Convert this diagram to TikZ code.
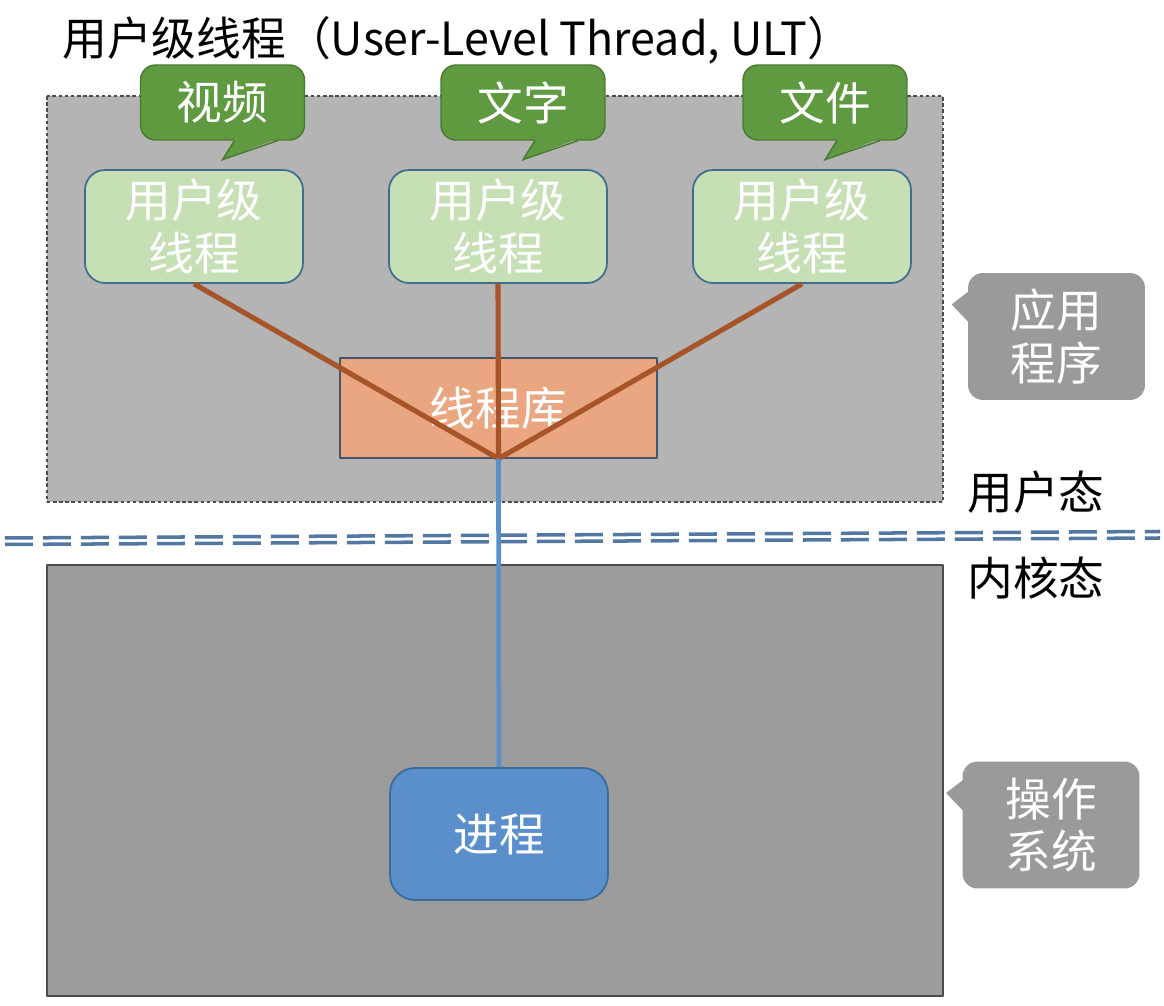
\documentclass[tikz,border=0pt]{standalone}
\usepackage{fontspec}
\setmainfont{Noto Sans CJK SC}
\usetikzlibrary{calc}
\definecolor{userbg}{HTML}{B4B4B4}
\definecolor{kernbg}{HTML}{9C9C9C}
\definecolor{talkfill}{HTML}{5F9A40}
\definecolor{talkline}{HTML}{477A2E}
\definecolor{ultfill}{HTML}{C6DFB5}
\definecolor{ultline}{HTML}{3F6E8F}
\definecolor{libfill}{HTML}{EAA680}
\definecolor{libline}{HTML}{44546A}
\definecolor{linkbrown}{HTML}{A65428}
\definecolor{procfill}{HTML}{5A8FCB}
\definecolor{procline}{HTML}{3A6A98}
\definecolor{notefill}{HTML}{9A9A9A}
\definecolor{splitblue}{HTML}{5277A3}
\begin{document}
\begin{tikzpicture}[x=0.02cm, y=-0.02cm, font=\fontsize{26}{30}\selectfont, line join=round]
    \tikzset{
        ult/.style={draw=ultline, fill=ultfill, rounded corners=0.4cm, line width=1pt, minimum width=4.36cm, minimum height=2.26cm, align=center, text=white},
        talk/.style={draw=talkline, fill=talkfill, rounded corners=0.3cm, line width=0.8pt, minimum width=3.28cm, minimum height=1.5cm, text=white},
        note/.style={fill=notefill, rounded corners=0.3cm, minimum width=3.54cm, minimum height=2.54cm, align=center, text=white},
        link/.style={draw=linkbrown, line width=2.9pt},
        split/.style={draw=splitblue, line width=2pt, dash pattern=on 0.56cm off 0.2cm}
    }
    \useasboundingbox (0,0) rectangle (1164,1006);
    % user space / kernel space
    \draw[draw=black!70, fill=userbg, line width=0.8pt, dash pattern=on 2pt off 1.5pt] (47,96) rectangle (943,502);
    \draw[draw=black!70, fill=kernbg, line width=1pt] (47,565) rectangle (943,996);
    \node[anchor=west, inner sep=0pt, xscale=0.98] (title) at (62,40) {用户级线程（User-Level Thread, ULT）};

    \node[ult] (ult1) at (194,226.5) {用户级\\线程};
    \node[ult] (ult2) at (498,226.5) {用户级\\线程};
    \node[ult] (ult3) at (802,226.5) {用户级\\线程};

    \node[talk] (video) at (222.5,102.5) {视频};
    \node[talk] (text) at (523,102.5) {文字};
    \node[talk] (file) at (825,102.5) {文件};
    \foreach \n in {video,text,file}{
        \fill[talkfill] ($(\n.south)+(12,-2)$) -- ($(\n.south)+(0,19)$) -- ($(\n.south)+(55,-2)$) -- cycle;
        \draw[talkline, line width=0.8pt, line join=miter] ($(\n.south)+(12,0)$) -- ($(\n.south)+(0,19)$) -- ($(\n.south)+(55,0)$);
    }

    \node[draw=libline, fill=libfill, line width=0.8pt, minimum width=6.34cm, minimum height=2cm, text=white] (lib) at (498.5,408) {线程库};
    \node[draw=procline, fill=procfill, rounded corners=0.5cm, line width=1pt, minimum width=4.36cm, minimum height=2.64cm, text=white] (proc) at (499,834) {进程};

    % separator
    \coordinate (sepL) at (5,538);
    \coordinate (sepR) at (1160,531.5);
    \draw[split] (sepL) -- (sepR);
    \draw[split] ($(sepL)+(0,6.5)$) -- ($(sepR)+(0,6.5)$);

    \draw[link] (ult1.south) -- (lib.south);
    \draw[link] (ult2.south) -- (lib.south);
    \draw[link] (ult3.south) -- (lib.south);
    \draw[draw=procfill, line width=2.7pt] (lib.south) -- (proc.north);

    \node[note] (app) at (1056.5,336.5) {应用\\程序};
    \node[note] (os) at (1051,825) {操作\\系统};
    \foreach \n in {app,os}{
        \fill[notefill] ($(\n.west)+(2,-46)$) -- ($(\n.west)+(-16,-32)$) -- ($(\n.west)+(2,-13)$) -- cycle;
    }

    \node (umode) at (1036,492) {用户态};
    \node (kmode) at (1036,578) {内核态};
\end{tikzpicture}
\end{document}
